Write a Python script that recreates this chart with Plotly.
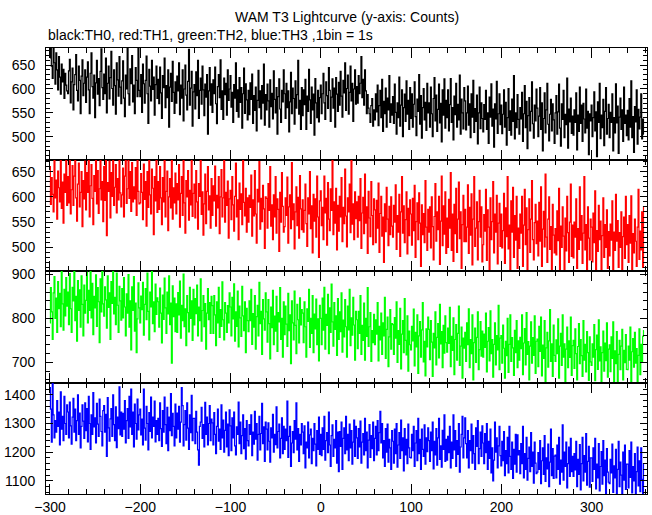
import plotly.graph_objects as go
from plotly.subplots import make_subplots

TIME = list(range(-300, 359))

TH0 = [
665,690,648,622,688,655,610,676,640,598,668,625,589,652,615,641,580,633,608,596,
590,638,662,571,615,644,556,609,630,672,597,575,648,618,548,627,661,586,612,640,
572,625,657,598,548,633,676,605,581,629,540,613,660,589,622,565,637,684,603,578,
631,590,665,550,612,648,579,624,679,601,566,640,607,547,655,619,585,668,604,569,
617,659,581,542,629,600,688,590,566,642,611,670,573,608,548,645,618,584,693,597,
584,630,551,652,611,570,618,669,590,528,641,606,575,660,599,625,545,609,648,580,
620,569,646,592,538,628,603,665,561,607,582,640,520,604,633,574,658,593,549,615,
570,627,596,655,546,608,581,640,533,600,650,587,556,616,683,566,602,637,522,594,
609,558,636,586,660,538,597,623,568,648,598,544,610,583,630,505,596,645,566,611,
551,619,590,646,569,527,605,630,582,661,557,596,536,623,588,612,545,640,576,600,
628,562,593,530,609,581,655,553,598,541,624,572,603,518,590,644,549,611,577,535,
597,546,613,578,631,528,586,555,604,512,576,639,561,596,537,607,570,652,524,588,
556,610,575,520,619,563,591,537,638,578,550,603,505,584,621,558,530,597,573,640,
590,538,612,561,596,510,573,635,548,602,580,526,617,560,588,660,547,576,515,603,
544,598,567,620,515,585,553,641,577,528,604,556,589,503,622,571,540,597,531,582,
608,548,590,633,571,536,615,586,559,645,597,532,583,621,560,602,520,624,589,553,
614,566,637,585,541,618,592,655,555,601,629,547,593,648,575,612,532,600,640,568,
605,570,628,590,612,668,582,620,566,640,596,548,588,560,548,530,565,580,522,556,
535,590,552,608,523,565,597,540,620,511,574,548,602,520,581,556,628,530,569,545,
584,528,610,551,505,571,540,625,522,566,598,500,561,589,532,617,547,576,515,603,
538,590,520,568,615,542,502,579,553,630,526,586,497,561,601,535,572,513,612,550,
571,520,604,548,500,580,624,533,587,511,557,610,529,570,489,598,545,621,518,576,
540,598,512,567,622,530,561,493,585,546,612,520,568,535,629,505,579,550,516,603,
575,514,550,606,524,569,498,590,541,618,509,559,532,587,485,550,604,517,571,538,
510,567,536,597,515,550,486,583,541,611,522,558,478,569,537,616,507,548,590,525,
566,506,547,598,520,572,482,540,601,513,554,503,579,532,628,495,550,519,588,536,
505,561,537,593,490,548,607,519,574,475,544,582,512,553,615,527,497,566,533,600,
560,500,543,603,515,571,470,538,592,508,556,612,526,491,547,578,512,569,535,486,
550,586,505,552,610,518,480,569,536,597,498,547,525,623,476,558,531,581,507,543,
503,556,530,592,472,545,511,604,528,566,490,570,537,508,600,518,553,462,548,533,
566,500,540,594,512,552,458,573,530,612,496,545,519,578,481,553,603,505,538,568,
498,551,530,590,470,540,508,611,529,564,465,541,581,515,556,490,604,528,545,502,
555,493,580,520,617,498,542,467,563,531,598,484,557,516,541,590,495,537,505,
]

TH1 = [
660,585,638,605,570,680,598,633,556,651,618,590,672,577,629,548,645,609,690,583,
640,588,676,566,614,662,583,641,700,598,552,625,667,580,609,650,541,632,596,671,
574,648,609,684,560,622,664,597,545,642,611,695,586,652,567,616,678,594,630,551,
660,593,690,523,628,611,671,558,648,601,702,583,619,664,568,636,594,683,608,580,
604,657,560,641,680,587,616,705,597,650,571,668,590,620,596,658,563,692,611,586,
588,646,609,555,665,595,630,542,650,579,684,604,566,655,617,525,640,592,672,569,
630,575,660,598,545,638,590,680,560,611,651,533,600,636,578,708,556,618,588,647,
566,626,594,664,540,607,640,563,676,588,528,632,600,652,554,613,584,690,561,607,
625,558,652,590,536,626,601,672,565,610,524,586,645,547,611,660,574,602,538,636,
563,622,592,661,542,603,578,640,527,600,654,560,598,688,550,609,583,631,518,596,
613,555,640,584,532,601,667,560,594,515,627,575,606,545,678,589,562,617,530,598,
550,603,579,643,522,594,562,652,566,508,615,590,670,536,597,551,623,576,498,600,
597,538,626,573,660,542,584,515,604,560,640,528,596,575,492,609,550,648,581,530,
541,598,563,639,508,580,604,537,668,555,586,497,570,620,543,599,518,642,576,535,
594,530,573,625,547,502,598,566,650,537,582,489,605,552,596,520,641,560,480,592,
612,543,579,515,641,568,597,504,628,556,533,616,573,672,525,590,548,617,495,583,
532,601,560,638,511,579,547,655,562,501,598,570,625,529,680,546,586,515,610,557,
590,520,601,553,636,498,568,599,527,645,548,580,488,611,558,521,630,563,505,596,
574,509,593,538,627,490,567,601,522,560,470,586,531,619,556,503,581,525,600,542,
520,583,550,624,496,563,530,605,482,570,640,528,582,509,555,610,487,577,523,594,
566,504,597,533,623,480,551,588,515,608,548,462,584,525,567,509,632,540,494,575,
530,580,499,600,541,475,561,626,512,570,535,601,466,552,641,503,582,526,610,488,
558,500,595,538,648,494,566,472,585,527,617,490,556,629,517,570,458,545,603,511,
575,511,540,624,488,579,524,606,465,556,640,502,538,590,475,551,613,520,580,471,
505,565,532,615,474,574,540,455,598,515,551,630,489,566,530,603,467,548,587,502,
566,499,533,607,468,578,521,640,497,544,455,592,530,619,480,563,514,601,458,538,
498,566,528,601,462,544,615,505,578,445,535,596,490,556,632,515,475,549,585,507,
552,483,589,512,620,462,536,571,501,645,520,470,556,600,496,541,453,585,524,489,
537,485,572,513,617,452,542,500,580,522,440,558,493,601,529,470,550,625,482,544,
479,550,520,596,458,537,496,620,514,563,468,528,640,495,545,446,580,518,475,556,
540,471,568,509,612,448,533,492,583,515,552,440,523,598,480,545,500,574,458,531,
483,546,514,592,447,530,494,605,512,553,460,529,500,570,438,521,560,478,601,505,
545,470,563,508,602,449,527,489,556,512,462,540,615,476,532,495,570,460,580,
]

TH2 = [
790,870,815,752,858,895,800,846,768,884,822,857,781,909,833,773,866,806,893,828,
860,786,902,822,768,871,840,908,795,850,748,886,818,865,780,897,832,760,876,812,
841,905,790,864,818,912,801,880,763,850,824,899,782,870,838,745,890,815,910,833,
805,872,842,778,897,825,858,752,884,834,915,810,848,786,903,830,768,873,840,796,
868,801,893,826,760,856,812,900,780,840,728,872,818,895,771,835,722,799,881,824,
790,851,820,882,762,832,868,797,903,816,751,860,826,912,788,838,770,878,809,847,
838,780,869,812,744,853,798,892,824,766,860,810,897,786,835,698,874,804,846,770,
833,768,859,808,885,755,830,795,901,781,822,738,852,813,769,871,800,840,750,866,
785,845,811,876,760,826,795,890,748,818,852,781,834,730,812,868,797,836,766,850,
829,766,852,808,738,838,790,871,757,820,782,883,797,751,836,812,768,829,790,858,
826,760,848,799,879,748,815,782,862,735,828,801,759,873,806,772,838,722,823,795,
770,840,795,866,741,811,780,852,730,804,830,760,882,788,816,718,843,799,773,858,
815,746,843,788,708,826,779,864,740,805,771,850,725,813,792,870,752,800,712,838,
763,828,787,736,857,772,808,697,840,790,751,862,784,720,832,797,744,847,785,820,
812,745,838,781,712,822,793,866,734,800,766,852,722,810,776,844,740,799,703,830,
800,740,846,773,871,730,809,784,855,720,824,768,878,792,737,836,775,806,716,845,
752,815,770,858,723,796,758,843,781,712,828,774,866,738,801,762,848,785,705,816,
797,731,816,766,852,718,784,750,835,705,800,759,870,736,781,813,702,772,745,809,
740,797,764,836,703,782,751,812,718,790,760,848,709,775,803,690,758,820,730,788,
786,718,802,755,838,700,772,741,823,685,764,795,722,845,750,717,806,680,771,740,
728,782,749,821,692,768,735,808,675,760,793,712,774,836,701,748,669,776,735,803,
775,706,795,746,668,766,733,815,694,757,788,710,832,742,770,688,784,721,806,745,
723,778,743,825,690,759,727,801,672,752,786,705,766,828,693,737,780,664,755,732,
768,702,790,740,822,688,752,720,808,660,745,778,700,757,815,683,729,793,714,771,
712,764,734,812,678,748,779,703,817,720,752,666,741,790,694,761,728,830,683,755,
761,698,785,732,664,748,715,800,677,741,808,702,756,733,670,773,722,795,688,749,
705,757,731,808,672,744,777,694,813,718,747,660,737,792,698,756,716,806,675,748,
753,690,782,725,803,669,739,709,795,655,733,768,689,749,820,702,742,668,785,716,
702,751,720,799,664,737,766,693,808,712,742,655,730,780,688,749,711,803,670,738,
750,686,776,720,660,736,788,697,752,715,668,795,705,741,678,770,722,659,758,701,
693,742,712,786,658,729,762,684,797,703,735,650,722,771,680,744,704,790,666,730,
740,679,758,709,792,654,726,697,770,645,718,750,683,737,775,660,727,699,763,684,
683,737,705,780,650,724,754,689,768,698,731,646,716,776,672,741,700,759,772,
]

TH3 = [
1425,1350,1235,1440,1330,1250,1310,1270,1380,1290,1340,1225,1410,1280,1325,1240,1395,1300,1262,1365,
1340,1250,1375,1292,1228,1322,1388,1270,1350,1240,1310,1400,1262,1336,1215,1290,1365,1308,1248,1372,
1275,1352,1236,1395,1300,1210,1330,1262,1408,1288,1320,1232,1370,1298,1255,1385,1325,1272,1222,1345,
1362,1270,1332,1185,1390,1285,1238,1316,1352,1255,1400,1296,1240,1358,1216,1322,1282,1428,1260,1340,
1255,1335,1280,1380,1232,1310,1352,1248,1395,1288,1420,1262,1340,1218,1368,1300,1245,1385,1278,1330,
1350,1260,1315,1225,1420,1284,1242,1360,1300,1208,1338,1272,1392,1250,1322,1290,1378,1236,1310,1262,
1318,1240,1372,1282,1220,1345,1270,1392,1296,1230,1356,1205,1322,1275,1404,1258,1335,1290,1222,1368,
1250,1336,1280,1360,1235,1305,1425,1362,1222,1296,1345,1242,1372,1284,1210,1330,1268,1398,1240,1318,
1318,1230,1342,1270,1208,1155,1290,1305,1356,1248,1296,1218,1374,1262,1322,1225,1300,1362,1240,1315,
1302,1225,1338,1262,1195,1290,1350,1238,1280,1210,1365,1250,1312,1200,1276,1340,1218,1298,1188,1348,
1292,1205,1320,1250,1340,1222,1190,1288,1262,1375,1230,1305,1195,1258,1330,1212,1282,1176,1310,1240,
1222,1296,1262,1330,1188,1270,1228,1342,1245,1300,1172,1262,1325,1208,1265,1370,1230,1288,1168,1305,
1280,1208,1302,1238,1165,1285,1250,1332,1200,1262,1226,1358,1215,1272,1298,1180,1248,1320,1195,1290,
1210,1280,1240,1378,1182,1255,1290,1150,1232,1272,1198,1310,1245,1372,1208,1282,1168,1262,1225,1300,
1270,1195,1292,1145,1235,1215,1305,1180,1260,1280,1160,1248,1205,1300,1228,1152,1275,1210,1322,1192,
1262,1188,1285,1210,1325,1172,1240,1268,1198,1340,1225,1150,1258,1295,1185,1245,1215,1310,1162,1270,
1132,1272,1220,1305,1140,1248,1285,1195,1325,1208,1262,1170,1298,1215,1275,1158,1235,1312,1185,1290,
1250,1178,1282,1218,1308,1162,1235,1265,1190,1318,1205,1270,1145,1242,1296,1182,1258,1212,1305,1170,
1248,1290,1190,1310,1205,1268,1342,1232,1300,1180,1240,1150,1282,1200,1298,1165,1245,1215,1140,1275,
1238,1162,1280,1195,1300,1148,1225,1268,1178,1312,1205,1250,1135,1282,1190,1245,1160,1298,1215,1182,
1180,1262,1205,1290,1150,1232,1275,1170,1318,1195,1245,1140,1280,1210,1185,1295,1158,1250,1202,1285,
1240,1168,1270,1205,1305,1142,1238,1190,1282,1155,1250,1318,1175,1222,1148,1276,1210,1330,1168,1245,
1172,1255,1198,1290,1145,1235,1178,1330,1208,1275,1150,1240,1192,1300,1130,1218,1262,1325,1180,1250,
1320,1230,1180,1275,1145,1240,1205,1298,1162,1258,1195,1140,1285,1220,1310,1160,1212,1270,1185,1292,
1232,1160,1265,1198,1300,1140,1238,1178,1280,1128,1215,1100,1172,1305,1200,1250,1145,1222,1290,1188,
1152,1238,1170,1272,1118,1205,1160,1252,1128,1290,1185,1140,1235,1108,1210,1158,1262,1130,1260,1190,
1205,1125,1230,1160,1290,1110,1195,1140,1252,1102,1178,1218,1132,1268,1150,1200,1092,1235,1162,1125,
1130,1198,1140,1240,1090,1170,1215,1122,1258,1098,1180,1142,1228,1080,1165,1280,1118,1212,1108,1186,
1190,1110,1225,1140,1252,1088,1172,1130,1295,1102,1200,1150,1235,1075,1160,1218,1115,1248,1132,1185,
1115,1195,1138,1238,1080,1175,1122,1226,1068,1160,1252,1100,1188,1130,1265,1085,1168,1220,1078,1180,
1180,1098,1215,1140,1248,1072,1158,1110,1230,1065,1150,1202,1088,1240,1118,1172,1055,1212,1130,1095,
1090,1175,1128,1228,1060,1152,1110,1210,1048,1140,1238,1080,1165,1120,1052,1200,1102,1225,1070,1158,
1158,1075,1205,1112,1235,1058,1150,1100,1195,1040,1132,1218,1082,1170,1062,1215,1105,1050,1160,
]

SERIES = [TH0, TH1, TH2, TH3]
COLORS = ["#000000", "#ff0000", "#00ff00", "#0000ff"]
YRANGES = [[452, 686], [453, 674], [654, 908], [1054, 1443]]
YDTICK = [50, 50, 100, 100]
YMINOR = [10, 10, 20, 20]
XRANGE = [-304.4, 361.4]

TITLE = "WAM T3 Lightcurve (y-axis: Counts)"
SUBTITLE = "black:TH0, red:TH1, green:TH2, blue:TH3 ,1bin = 1s"

FONT = "Liberation Sans, Arial, Helvetica, sans-serif"

FIG_W, FIG_H = 652, 515
TOP, BOTTOM, LEFT, RIGHT = 48, 21, 46, 5
PLOT_H = FIG_H - TOP - BOTTOM

fig = make_subplots(rows=4, cols=1, shared_xaxes=True, vertical_spacing=0)

for i, (s, c) in enumerate(zip(SERIES, COLORS)):
    fig.add_trace(
        go.Scatter(
            x=TIME[:len(s)], y=s, mode="lines",
            line=dict(color=c, width=1.2, shape="hvh"),
            showlegend=False, hoverinfo="skip",
        ),
        row=i + 1, col=1,
    )
    fig.update_yaxes(
        range=YRANGES[i], tick0=0, dtick=YDTICK[i],
        ticks="inside", ticklen=7, tickwidth=1, tickcolor="black",
        minor=dict(dtick=YMINOR[i], tick0=0, ticks="inside", ticklen=4,
                   tickcolor="black", showgrid=False),
        showline=True, linecolor="black", linewidth=1, mirror="ticks",
        showgrid=False, zeroline=False, ticklabelstandoff=7, automargin=False,
        tickfont=dict(family=FONT, size=14, color="black"),
        row=i + 1, col=1,
    )

fig.update_xaxes(
    range=XRANGE, tick0=0, dtick=100,
    ticks="inside", ticklen=10, tickwidth=1, tickcolor="black",
    minor=dict(dtick=20, tick0=0, ticks="inside", ticklen=5,
               tickcolor="black", showgrid=False),
    showline=True, linecolor="black", linewidth=1, mirror="ticks",
    showgrid=False, zeroline=False, automargin=False,
    tickfont=dict(family=FONT, size=14, color="black"),
)

fig.add_annotation(text=TITLE, xref="paper", yref="paper", x=0.5,
                   y=1 + (TOP - 17) / PLOT_H,
                   xanchor="center", yanchor="middle", showarrow=False,
                   font=dict(family=FONT, size=14, color="black"))
fig.add_annotation(text=SUBTITLE, xref="paper", yref="paper", x=0,
                   y=1 + (TOP - 35) / PLOT_H,
                   xanchor="left", yanchor="middle", showarrow=False,
                   font=dict(family=FONT, size=14, color="black"))

fig.update_layout(
    width=FIG_W, height=FIG_H,
    margin=dict(l=LEFT, r=RIGHT, t=TOP, b=BOTTOM, autoexpand=False),
    plot_bgcolor="white", paper_bgcolor="white",
    showlegend=False,
)

fig.write_html("out.html", config={"displayModeBar": False},
               post_script="document.body.style.margin='0px';")
